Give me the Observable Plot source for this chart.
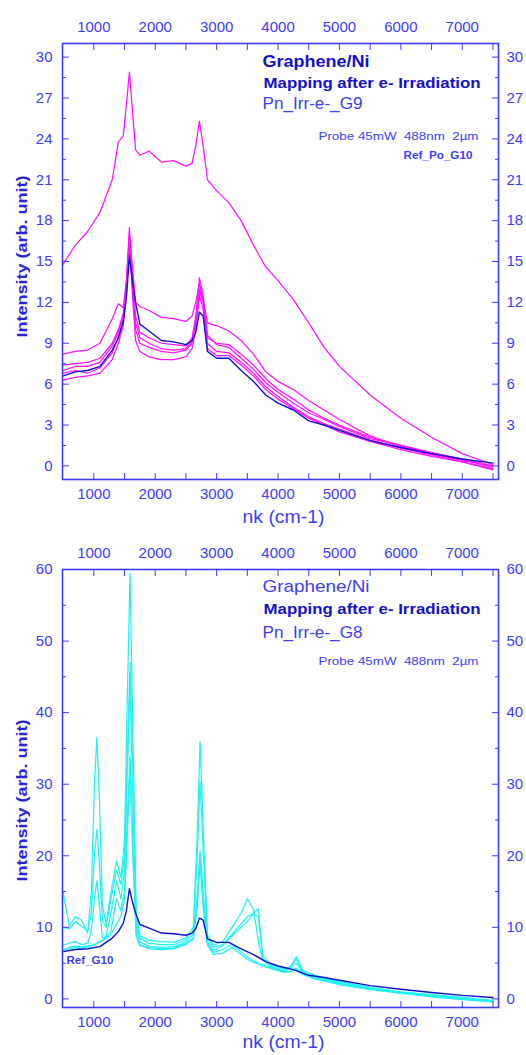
<!DOCTYPE html>
<html><head><meta charset="utf-8">
<script src="https://cdn.jsdelivr.net/npm/d3@7"></script>
<script src="https://cdn.jsdelivr.net/npm/@observablehq/plot@0.6"></script>
<style>body{margin:0;background:#fff;width:526px;overflow:hidden} svg{display:block}</style>
</head><body><div id="chart"></div>
<script>
// ---- shared axis data ----
const xLabels = [1000, 2000, 3000, 4000, 5000, 6000, 7000];
const xTicks = [1000, 1500, 2000, 2500, 3000, 3500, 4000, 4500, 5000, 5500, 6000, 6500, 7000, 7500];

// ---- top panel (Pn_Irr-e-_G9) ----
const xTop = [500,700,900,1100,1300,1400,1480,1530,1580,1630,1680,1750,1900,2100,2300,2500,2600,2660,2720,2780,2850,3000,3200,3400,3600,3800,4000,4250,4500,4750,5000,5500,6000,6500,7000,7500];
const refG10 = [6.6,6.9,7.0,7.3,8.5,9.4,10.6,12.3,15.4,13.5, 12.0,10.4,9.9,9.2,9.1,8.9,9.2,9.8,11.3,11.0, 8.4,7.9,7.9,7.0,6.2,5.2,4.6,4.1,3.3,3.0, 2.6,1.85,1.35,0.9,0.5,0.2];
const g9High = [14.8,16.2,17.2,18.6,21.0,23.8,24.2,26.5,28.9,26.0, 23.2,22.8,23.1,22.3,22.4,22.0,22.2,23.5,25.3,23.5, 21.0,20.2,19.3,18.0,16.2,14.6,13.6,12.2,10.5,8.7, 7.3,5.2,3.5,2.1,0.9,0.1];
const g9M1 = [8.2,8.4,8.5,9.0,10.8,11.9,11.6,13.5,17.0,14.5, 12.0,11.7,11.4,10.9,10.8,10.6,11.0,12.0,13.4,12.2, 10.5,10.3,9.9,9.2,8.2,6.9,6.2,5.6,4.8,4.1, 3.4,2.2,1.4,0.9,0.4,0.0];
const g9M2 = [7.4,7.5,7.6,7.9,9.0,10.0,11.2,13.5,17.5,14.0, 11.0,9.8,9.4,9.0,8.9,8.8,9.4,11.0,13.8,12.5, 9.6,8.9,8.7,7.9,7.1,6.1,5.4,4.6,3.9,3.4, 2.9,2.0,1.5,0.9,0.45,-0.1];
const g9M3 = [6.8,7.0,6.8,7.2,8.3,9.5,10.8,13.0,16.5,13.0, 10.0,9.0,8.7,8.4,8.3,8.5,9.0,10.5,12.8,12.0, 9.0,8.4,8.3,7.6,6.8,5.8,5.1,4.3,3.6,3.1, 2.7,1.9,1.3,0.8,0.3,-0.2];
const g9M4 = [6.3,6.5,6.6,6.8,7.8,9.0,10.3,12.8,16.8,12.5, 9.2,8.4,8.0,7.8,7.8,8.0,8.6,10.0,12.5,11.5, 8.6,8.1,8.1,7.4,6.6,5.6,4.9,4.2,3.5,3.0, 2.5,1.8,1.2,0.7,0.3,-0.3];
const g9M5 = [7.0,7.3,7.3,7.6,8.8,9.8,11.0,13.2,16.2,13.2, 10.5,9.4,9.0,8.6,8.5,8.6,9.2,10.6,13.0,12.2, 9.4,9.0,8.9,8.2,7.4,6.4,5.6,4.9,4.1,3.5, 3.0,2.1,1.5,1.0,0.5,0.0];
const yTopLabels = [0,3,6,9,12,15,18,21,24,27,30];
const yTopMinor = [1.5,4.5,7.5,10.5,13.5,16.5,19.5,22.5,25.5,28.5];

// ---- bottom panel (Pn_Irr-e-_G8) ----
const xBot = [500,600,700,800,900,960,1010,1050,1090,1140,1200,1280,1370,1440,1500,1540,1590,1640,1690,1750,1900,2100,2300,2500,2620,2680,2730,2780,2850,2950,3100,3250,3400,3500,3600,3680,3750,3900,4100,4200,4300,4400,4600,5000,5500,6000,6500,7000,7500];
const g8C1 = [14.9,10.2,11.5,11.0,9.2,15,30,36.5,28,13, 10.5,15,19.3,17,22,40,59.5,35,12,8.8, 8.2,8.0,7.9,8.5,10,22,36,24,9,7.5, 8.0,10.0,12.0,14.0,12.5,8,5.4,4.8,4.2,4.5, 5.9,4.0,3.3,2.4,1.6,1.0,0.6,0.2,-0.2];
const g8C2 = [10.0,9.8,10.8,10.2,9.5,12,20,23.7,19,11, 10.0,14,18,16,20,32,47,30,11,8.5, 7.8,7.6,7.6,8.2,9.5,19,30.4,21,8.5,7.2, 7.6,9.0,10.5,11.5,12.0,12.6,6.0,4.6,4.0,4.4, 5.6,3.8,3.2,2.3,1.5,0.9,0.5,0.1,-0.3];
const g8C3 = [7.5,7.8,8.0,7.6,7.8,9.5,14,16.5,13,8.5, 8.8,12,16.5,14,18,30,44,27,10,8.0, 7.3,7.2,7.3,7.9,9.0,14,20.7,15,8.0,6.8, 7.4,8.8,10.0,10.8,11.9,11.5,5.5,4.4,3.9,4.3, 5.0,3.6,3.0,2.2,1.4,0.9,0.4,0.0,-0.3];
const g8C4 = [6.8,7.2,7.4,7.3,7.4,7.5,7.6,7.8,8.0,8.2, 8.6,9.5,14.0,12.3,15,24,34,20,9.0,7.6, 7.0,6.9,7.0,7.6,8.5,13,20,14,7.8,6.5, 6.9,7.6,6.6,5.8,5.3,5.0,4.8,4.3,3.8,3.9, 4.3,3.5,2.9,2.1,1.4,0.8,0.4,0.0,-0.4];
const g8C5 = [6.9,7.0,7.2,7.1,7.3,7.4,7.5,7.7,7.9,8.1, 8.4,9.0,10.5,11.5,14,22,32,19,8.8,7.4, 7.2,7.0,7.1,7.7,8.3,12.5,19,13,7.5,6.2, 6.4,7.2,6.2,5.5,5.1,4.9,4.6,4.2,3.7,3.8, 4.1,3.4,2.8,2.0,1.3,0.8,0.3,-0.1,-0.4];
const yBotLabels = [0,10,20,30,40,50,60];
const yBotMinor = [5,15,25,35,45,55];

// ---- styling ----
const axisColor = "#3d3df7";
const darkBlue = "#1212c8";
const font = "'Liberation Sans', Arial, sans-serif";
const xDomain = [490, 7590];

function rows(xs, ys, s) { return xs.map((x, i) => ({x, y: ys[i], s})); }

function axes(yLabels, yMinor) {
  const common = {color: axisColor, label: null, fontSize: 15};
  const blank = () => "";
  return [
    Plot.axisX({...common, anchor: "bottom", ticks: xTicks, tickSize: -6, tickFormat: blank}),
    Plot.axisX({...common, anchor: "top", ticks: xTicks, tickSize: -6, tickFormat: blank}),
    Plot.axisX({...common, anchor: "bottom", ticks: xLabels, tickSize: 0, tickPadding: 9, tickFormat: d => String(d)}),
    Plot.axisX({...common, anchor: "top", ticks: xLabels, tickSize: 0, tickPadding: 12, tickFormat: d => String(d)}),
    Plot.axisY({...common, anchor: "left", ticks: yLabels, tickSize: -7, tickFormat: blank}),
    Plot.axisY({...common, anchor: "left", ticks: yMinor, tickSize: -4, tickFormat: blank}),
    Plot.axisY({...common, anchor: "right", ticks: yLabels, tickSize: -7, tickFormat: blank}),
    Plot.axisY({...common, anchor: "right", ticks: yMinor, tickSize: -4, tickFormat: blank}),
    Plot.axisY({...common, anchor: "left", ticks: yLabels, tickSize: 0, tickPadding: 10, tickFormat: d => String(d)}),
    Plot.axisY({...common, anchor: "right", ticks: yLabels, tickSize: 0, tickPadding: 8, tickFormat: d => String(d)})
  ];
}

function txt(s, o) {
  return Plot.text([s], {text: d => d, frameAnchor: "top-left", textAnchor: "start", lineAnchor: "middle", fontFamily: font, ...o});
}

function fitText(svg, map) {
  d3.select(svg).selectAll("text").each(function() {
    const t = this.textContent;
    if (map[t]) { this.setAttribute("textLength", map[t]); this.setAttribute("lengthAdjust", "spacingAndGlyphs"); }
  });
}

const lengths = {
  "Graphene/Ni": 107, "Mapping after e- Irradiation": 217, "Pn_Irr-e-_G9": 100, "Pn_Irr-e-_G8": 100,
  "Probe 45mW  488nm  2µm": 160, "Ref_Po_G10": 69, "Ref_G10": 47, "nk (cm-1)": 82, "Intensity (arb. unit)": 162
};

function yTitle(dy) {
  return Plot.text(["Intensity (arb. unit)"], {text: d => d, frameAnchor: "left", textAnchor: "start", lineAnchor: "middle", dx: -40, dy, rotate: -90, fontSize: 15, fontWeight: "bold", fill: "#2424e0", fontFamily: font});
}

// ---- top plot ----
const topMag = [
  ...rows(xTop, g9High, "h"), ...rows(xTop, g9M1, "m1"), ...rows(xTop, g9M2, "m2"),
  ...rows(xTop, g9M3, "m3"), ...rows(xTop, g9M4, "m4"), ...rows(xTop, g9M5, "m5")
];
const topRef = rows(xTop, refG10, "ref");

const plotTop = Plot.plot({
  width: 526, height: 535, marginLeft: 62, marginRight: 28, marginTop: 43, marginBottom: 56,
  style: {fontFamily: font, background: "white", overflow: "visible", color: axisColor},
  x: {domain: xDomain, label: null},
  y: {domain: [-1, 31], label: null},
  marks: [
    Plot.line(topMag, {x: "x", y: "y", z: "s", stroke: "#ff10ff", strokeWidth: 1.25}),
    Plot.line(topRef, {x: "x", y: "y", stroke: "#1010d0", strokeWidth: 1.4}),
    Plot.frame({stroke: axisColor, strokeWidth: 1.6}),
    ...axes(yTopLabels, yTopMinor),
    txt("Graphene/Ni", {dx: 200, dy: 18, fontSize: 17, fontWeight: "bold", fill: darkBlue}),
    txt("Mapping after e- Irradiation", {dx: 201, dy: 40, fontSize: 15, fontWeight: "bold", fill: darkBlue}),
    txt("Pn_Irr-e-_G9", {dx: 200, dy: 60, fontSize: 17, fill: axisColor}),
    txt("Probe 45mW  488nm  2µm", {dx: 256, dy: 93, fontSize: 10.5, fill: axisColor}),
    txt("Ref_Po_G10", {dx: 341, dy: 112, fontSize: 10.5, fontWeight: "bold", fill: axisColor}),
    Plot.text(["nk (cm-1)"], {text: d => d, frameAnchor: "bottom", dx: 3, dy: 43, fontSize: 18, fill: axisColor, fontFamily: font}),
    yTitle(76)
  ]
});
fitText(plotTop, lengths);

// ---- bottom plot ----
const botCyan = [
  ...rows(xBot, g8C1, "c1"), ...rows(xBot, g8C2, "c2"), ...rows(xBot, g8C3, "c3"),
  ...rows(xBot, g8C4, "c4"), ...rows(xBot, g8C5, "c5")
];
const plotBot = Plot.plot({
  width: 526, height: 520, marginLeft: 62, marginRight: 28, marginTop: 34, marginBottom: 48,
  style: {fontFamily: font, background: "white", overflow: "visible", color: axisColor},
  x: {domain: xDomain, label: null},
  y: {domain: [-1.2, 60], label: null},
  marks: [
    Plot.line(botCyan, {x: "x", y: "y", z: "s", stroke: "#22f2f2", strokeWidth: 1.25}),
    Plot.line(topRef, {x: "x", y: "y", stroke: "#1010d0", strokeWidth: 1.4}),
    Plot.frame({stroke: axisColor, strokeWidth: 1.6}),
    ...axes(yBotLabels, yBotMinor),
    txt("Graphene/Ni", {dx: 200, dy: 17, fontSize: 17, fill: axisColor}),
    txt("Mapping after e- Irradiation", {dx: 201, dy: 40, fontSize: 15, fontWeight: "bold", fill: darkBlue}),
    txt("Pn_Irr-e-_G8", {dx: 200, dy: 63, fontSize: 17, fill: axisColor}),
    txt("Probe 45mW  488nm  2µm", {dx: 256, dy: 92, fontSize: 10.5, fill: axisColor}),
    Plot.text(["Ref_G10"], {text: d => d, frameAnchor: "bottom-left", textAnchor: "start", lineAnchor: "middle", dx: 4, dy: -47, fontSize: 10, fontWeight: "bold", fill: axisColor, fontFamily: font}),
    Plot.text(["nk (cm-1)"], {text: d => d, frameAnchor: "bottom", dx: 3, dy: 40, fontSize: 18, fill: axisColor, fontFamily: font}),
    yTitle(93)
  ]
});
fitText(plotBot, lengths);

document.getElementById("chart").append(plotTop, plotBot);
</script>
</body></html>
